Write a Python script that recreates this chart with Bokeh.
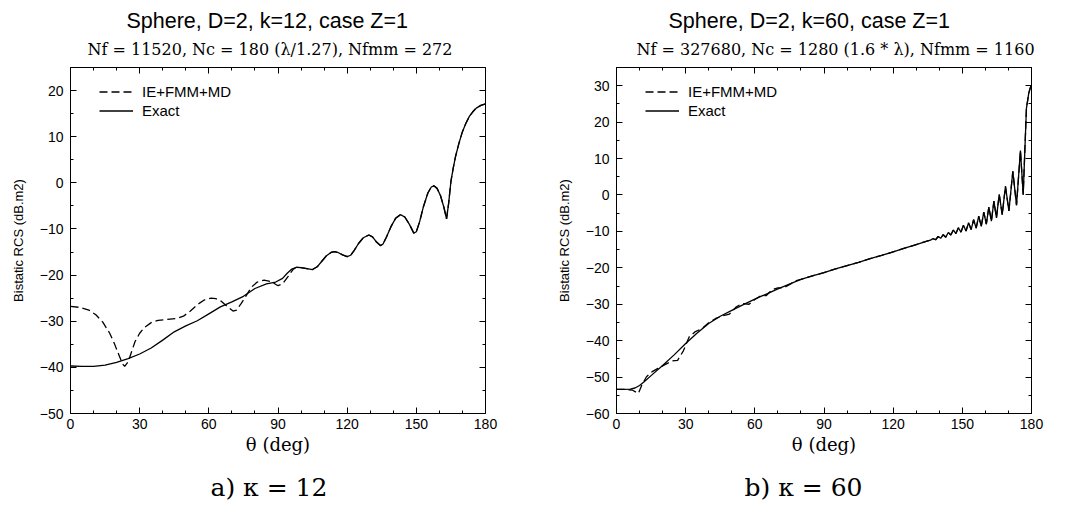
from bokeh.plotting import figure
from bokeh.models import Range1d, LinearAxis, SingleIntervalTicker, Title, Legend, LegendItem
from bokeh.layouts import row
from bokeh.embed import file_html
from bokeh.resources import INLINE

# ---------------- data ----------------
theta_a_exact = [0, 5, 10, 15, 20, 25, 30, 35, 40, 45, 50, 55, 60, 65, 70, 75, 80, 85, 89, 92, 94, 96, 98,
                 100, 102.5, 105, 107, 109, 111, 113, 114.5, 116, 118, 120, 121.5, 123, 125, 127, 129.4, 131,
                 132.5, 134.4, 135.5, 137, 139, 141, 143.1, 145, 147, 148.9, 150, 151.5, 153, 155, 156.5,
                 157.6, 159, 160.5, 162, 163.1, 164, 165, 166, 167, 168.5, 170, 171.5, 173, 174.5, 176, 178, 180]
rcs_a_exact = [-39.7, -39.8, -39.8, -39.5, -38.9, -38.1, -37.1, -35.8, -34.1, -32.3, -31.0, -29.9, -28.4,
               -26.9, -25.8, -24.6, -22.9, -21.9, -21.5, -20.7, -19.6, -18.7, -18.3,
               -18.4, -18.6, -18.8, -18.2, -17.0, -15.8, -15.1, -14.9, -15.1, -15.6, -16.0, -15.7, -14.7,
               -13.1, -11.9, -11.3, -11.7, -12.7, -13.6, -13.3, -11.8, -9.5, -7.7, -6.9, -7.4, -9.0, -10.9,
               -10.6, -8.3, -5.3, -2.2, -0.9, -0.65, -1.2, -2.8, -5.4, -7.8, -4.5, 0.3, 3.2, 5.7, 8.6, 11.1,
               12.9, 14.4, 15.4, 16.2, 16.8, 17.1]

theta_a_ie_low = [0, 4, 8, 11, 14, 17, 19, 21, 22.5, 23.5, 25, 26.5, 28, 30, 32, 35, 38, 42, 46, 49, 52, 55,
                  58, 61, 63, 65.5, 68, 70.5, 72, 74, 76, 78.5, 81, 84, 87, 90, 92, 94.5, 96.5]
rcs_a_ie_low = [-26.8, -27.0, -27.6, -28.6, -30.2, -32.6, -34.8, -37.3, -39.2, -39.8, -38.8, -36.6, -34.4,
                -32.6, -31.4, -30.3, -29.8, -29.6, -29.4, -28.9, -27.8, -26.4, -25.4, -25.0, -25.1, -25.7,
                -26.8, -27.8, -27.6, -26.2, -24.6, -22.6, -21.5, -21.1, -21.4, -22.3, -21.9, -20.2, -18.8]

theta_b_exact = [0, 3, 6, 8, 10, 12, 15, 20, 25, 30, 35, 40, 45, 50, 55, 60, 65, 70, 75, 80, 85, 90, 95,
                 100, 105, 110, 115, 120, 125, 130, 135, 136.2, 137.3, 138.4, 139.5, 140.6, 141.7, 142.8,
                 143.9, 145.0, 146.1, 147.2, 148.3, 149.4, 150.5, 151.6, 152.7, 153.8, 154.9, 156.0, 157.1,
                 158.2, 159.3, 160.4, 161.5, 162.6, 163.7, 164.8, 166.0, 167.3, 168.7, 170.2, 171.9, 173.5,
                 175.2, 176.4, 177.8, 178.8, 179.6, 180]
rcs_b_exact = [-53.4, -53.4, -53.3, -53.0, -52.3, -51.3, -49.6, -46.8, -43.9, -40.8, -37.9, -35.3, -33.3,
               -31.7, -30.1, -28.6, -27.2, -25.8, -24.5, -23.2, -22.2, -21.3, -20.3, -19.4, -18.5, -17.5,
               -16.6, -15.6, -14.6, -13.6, -12.6, -12.4, -12.0, -12.3, -11.4, -11.9, -10.9, -11.6, -10.3,
               -11.0, -9.6, -10.6, -9.0, -10.2, -8.3, -9.9, -7.6, -9.5, -6.8, -9.1, -5.8, -8.6, -4.7, -8.0,
               -3.3, -7.2, -1.7, -6.3, 0.2, -5.4, 2.4, -4.4, 6.5, -2.8, 12.2, 0.1, 23.8, 27.9, 29.7, 30.0]

theta_b_ie_low = [0, 4, 7, 9.5, 11, 13, 15.5, 18, 21, 24, 26.5, 29, 31.5, 34, 37, 40, 43, 46, 49, 52, 54.5,
                  57.5, 60, 62.5, 65, 67.5, 70, 72.5, 75, 78]
rcs_b_ie_low = [-53.4, -53.4, -53.6, -54.5, -52.2, -49.9, -48.5, -47.6, -46.6, -45.6, -45.4, -42.8, -39.0,
                -37.6, -36.7, -35.1, -33.9, -33.2, -32.7, -30.7, -29.8, -30.0, -28.7, -27.7, -27.6, -26.0,
                -25.5, -25.5, -24.6, -23.5]

# where the two curves coincide, the IE+FMM+MD curve follows the exact values
theta_a_ie = theta_a_ie_low + [t for t in theta_a_exact if t >= 98]
rcs_a_ie = rcs_a_ie_low + [v for t, v in zip(theta_a_exact, rcs_a_exact) if t >= 98]
theta_b_ie = theta_b_ie_low + [t for t in theta_b_exact if t >= 80]
rcs_b_ie = rcs_b_ie_low + [v for t, v in zip(theta_b_exact, rcs_b_exact) if t >= 80]

series_labels = ["IE+FMM+MD", "Exact"]
titles_a = ["Sphere, D=2, k=12, case Z=1", "Nf = 11520, Nc = 180 (\u03bb/1.27), Nfmm = 272"]
titles_b = ["Sphere, D=2, k=60, case Z=1", "Nf = 327680, Nc = 1280 (1.6 * \u03bb), Nfmm = 1160"]
captions = ["a) \u03ba = 12", "b) \u03ba = 60"]
y_label = "Bistatic RCS (dB.m2)"
x_label = "\u03b8 (deg)"

SANS = "Liberation Sans"
SERIF = "DejaVu Serif"
FRAME_W, FRAME_H = 415, 346
FIG_H = 505
TOP = 67


def style_axis(ax, show_labels=True):
    ax.axis_line_color = "black"
    ax.axis_line_width = 1
    ax.major_tick_in = 6
    ax.major_tick_out = 0
    ax.minor_tick_in = 3
    ax.minor_tick_out = 0
    ax.major_tick_line_color = "black"
    ax.minor_tick_line_color = "black"
    ax.major_label_text_font = SANS
    if show_labels:
        ax.major_label_text_color = "black"
        ax.major_label_text_font_size = "14px"
    else:
        ax.major_label_text_color = None
        ax.major_label_text_font_size = "1px"


def spacer_axis(ticker, px):
    # an invisible axis, used only to leave a gap of px pixels in a side panel
    ax = LinearAxis(ticker=ticker)
    ax.axis_line_color = None
    ax.major_tick_line_color = None
    ax.minor_tick_line_color = None
    ax.major_tick_in = 0
    ax.major_tick_out = px
    ax.minor_tick_in = 0
    ax.minor_tick_out = 0
    ax.major_label_text_color = None
    ax.major_label_text_font_size = "1px"
    return ax


def make_plot(th_ie, r_ie, th_ex, r_ex, ymin, ymax, titles, title_offsets, caption, caption_offset,
              border_left, border_right):
    p = figure(width=border_left + FRAME_W + border_right, height=FIG_H,
               x_range=Range1d(0, 180), y_range=Range1d(ymin, ymax),
               output_backend="svg", toolbar_location=None, title_location=None,
               min_border_left=border_left, min_border_right=border_right,
               min_border_top=TOP, min_border_bottom=FIG_H - TOP - FRAME_H)
    p.xgrid.visible = False
    p.ygrid.visible = False
    p.outline_line_color = None
    p.background_fill_color = "white"
    p.border_fill_color = "white"

    xt = SingleIntervalTicker(interval=30, num_minor_ticks=3)
    yt = SingleIntervalTicker(interval=10, num_minor_ticks=2)
    p.xaxis.ticker = xt
    p.yaxis.ticker = yt
    style_axis(p.xaxis[0])
    style_axis(p.yaxis[0])
    p.xaxis.major_label_standoff = 5
    p.yaxis.major_label_standoff = 7
    p.xaxis.axis_label = x_label
    p.xaxis.axis_label_text_font = SERIF
    p.xaxis.axis_label_text_font_style = "normal"
    p.xaxis.axis_label_text_font_size = "18px"
    p.xaxis.axis_label_text_color = "black"
    p.xaxis.axis_label_standoff = 2
    p.yaxis.axis_label = y_label
    p.yaxis.axis_label_text_font = SANS
    p.yaxis.axis_label_text_font_style = "normal"
    p.yaxis.axis_label_text_font_size = "13px"
    p.yaxis.axis_label_text_color = "black"
    p.yaxis.axis_label_standoff = 11

    top = LinearAxis(ticker=xt)
    style_axis(top, show_labels=False)
    right = LinearAxis(ticker=yt)
    style_axis(right, show_labels=False)
    p.add_layout(top, "above")
    p.add_layout(right, "right")

    # titles above (stacked outward from the frame)
    p.add_layout(spacer_axis(xt, 6), "above")
    p.add_layout(Title(text=titles[1], text_font=SERIF, text_font_size="16px", text_font_style="normal",
                       text_color="black", align="left", standoff=6, offset=title_offsets[1]), "above")
    p.add_layout(Title(text=titles[0], text_font=SANS, text_font_size="21.5px", text_font_style="normal",
                       text_color="black", align="left", standoff=3, offset=title_offsets[0]), "above")

    # caption below the axis label
    p.add_layout(spacer_axis(xt, 13), "below")
    p.add_layout(Title(text=caption, text_font=SERIF, text_font_size="25px", text_font_style="normal",
                       text_color="black", align="left", standoff=0, offset=caption_offset), "below")

    r1 = p.line(th_ie, r_ie, line_color="black", line_width=1.3, line_dash="8 4")
    r2 = p.line(th_ex, r_ex, line_color="black", line_width=1.3)

    legend = Legend(items=[LegendItem(label=series_labels[0], renderers=[r1]),
                           LegendItem(label=series_labels[1], renderers=[r2])],
                    location=(29, 293), border_line_color=None, background_fill_alpha=0,
                    label_text_font=SANS, label_text_font_size="15px", label_text_color="black",
                    glyph_width=34, glyph_height=19, label_height=19, spacing=0, padding=0, margin=0,
                    label_standoff=9)
    p.add_layout(legend)
    return p


p1 = make_plot(theta_a_ie, rcs_a_ie, theta_a_exact, rcs_a_exact, -50, 25, titles_a, (56, 17),
               captions[0], 140, 70, 57)
p2 = make_plot(theta_b_ie, rcs_b_ie, theta_b_exact, rcs_b_exact, -60, 35, titles_b, (52, 20),
               captions[1], 128, 74, 53)

layout = row(p1, p2)
open("out.html", "w").write(file_html(layout, INLINE))
